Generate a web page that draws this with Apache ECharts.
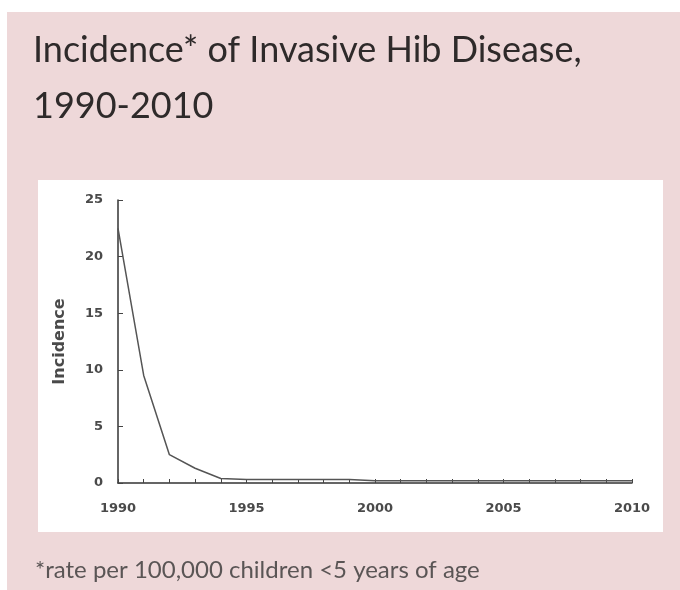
<!DOCTYPE html>
<html>
<head>
<meta charset="utf-8">
<script src="https://cdn.jsdelivr.net/npm/echarts@6/dist/echarts.min.js"></script>
<style>
  html, body { margin: 0; padding: 0; background: #ffffff; }
  #chart { width: 680px; height: 590px; }
</style>
</head>
<body>
<div id="chart"></div>
<script>
// years and incidence per 100,000 children <5 years
var years = [1990, 1991, 1992, 1993, 1994, 1995, 1996, 1997, 1998, 1999, 2000,
             2001, 2002, 2003, 2004, 2005, 2006, 2007, 2008, 2009, 2010];
var incidence = [22.5, 9.5, 2.5, 1.3, 0.4, 0.3, 0.3, 0.3, 0.3, 0.3, 0.2,
                 0.2, 0.2, 0.2, 0.2, 0.2, 0.2, 0.2, 0.2, 0.2, 0.2];
var yTicks = [0, 5, 10, 15, 20, 25];

var chart = echarts.init(document.getElementById('chart'));

var points = [];
for (var i = 0; i < years.length; i++) {
    points.push([years[i], incidence[i]]);
}

var labelFont = 'DejaVu Sans';

var option = {
    backgroundColor: '#ffffff',
    animation: false,
    graphic: [
        { type: 'rect', z: -10, shape: { x: 7, y: 12, width: 673, height: 578 }, style: { fill: '#eed8d9' } },
        { type: 'rect', z: -9, shape: { x: 38, y: 180, width: 625, height: 352 }, style: { fill: '#ffffff' } },
        {
            type: 'text', x: 35, y: 570,
            style: {
                text: '*rate per 100,000 children <5 years of age',
                font: '24px Lato', fill: '#5a5555', verticalAlign: 'middle'
            }
        }
    ],
    title: {
        text: 'Incidence* of Invasive Hib Disease,\n1990-2010',
        left: 28,
        top: 17,
        textStyle: {
            fontFamily: 'Lato',
            fontWeight: 'normal',
            fontSize: 36,
            lineHeight: 56,
            color: '#2e2a2a'
        }
    },
    grid: { left: 118, right: 48, top: 200, bottom: 107 },
    xAxis: {
        type: 'value',
        min: 1990,
        max: 2010,
        interval: 1,
        splitLine: { show: false },
        axisLine: { lineStyle: { color: '#333', width: 1.5 } },
        axisTick: { inside: true, length: 4, lineStyle: { color: '#444' } },
        axisLabel: {
            color: '#4a4a4a', fontFamily: labelFont, fontWeight: 'bold', fontSize: 13, margin: 19,
            formatter: function (v) { return v % 5 === 0 ? String(v) : ''; }
        }
    },
    yAxis: {
        type: 'value',
        min: 0,
        max: 25,
        interval: 5,
        name: 'Incidence',
        nameLocation: 'middle',
        nameGap: 50,
        nameRotate: 90,
        nameTextStyle: { fontFamily: labelFont, fontWeight: 'bold', fontSize: 16, color: '#4a4a4a' },
        splitLine: { show: false },
        axisLine: { show: true, lineStyle: { color: '#333', width: 1.5 } },
        axisTick: { show: true, inside: true, length: 5, lineStyle: { color: '#444' } },
        axisLabel: {
            color: '#4a4a4a', fontFamily: labelFont, fontWeight: 'bold', fontSize: 13, margin: 15,
            formatter: function (v) { return yTicks.indexOf(v) >= 0 ? String(v) : ''; }
        }
    },
    series: [{
        type: 'line',
        data: points,
        showSymbol: false,
        lineStyle: { color: '#555', width: 1.5 }
    }]
};

chart.setOption(option);
</script>
</body>
</html>
